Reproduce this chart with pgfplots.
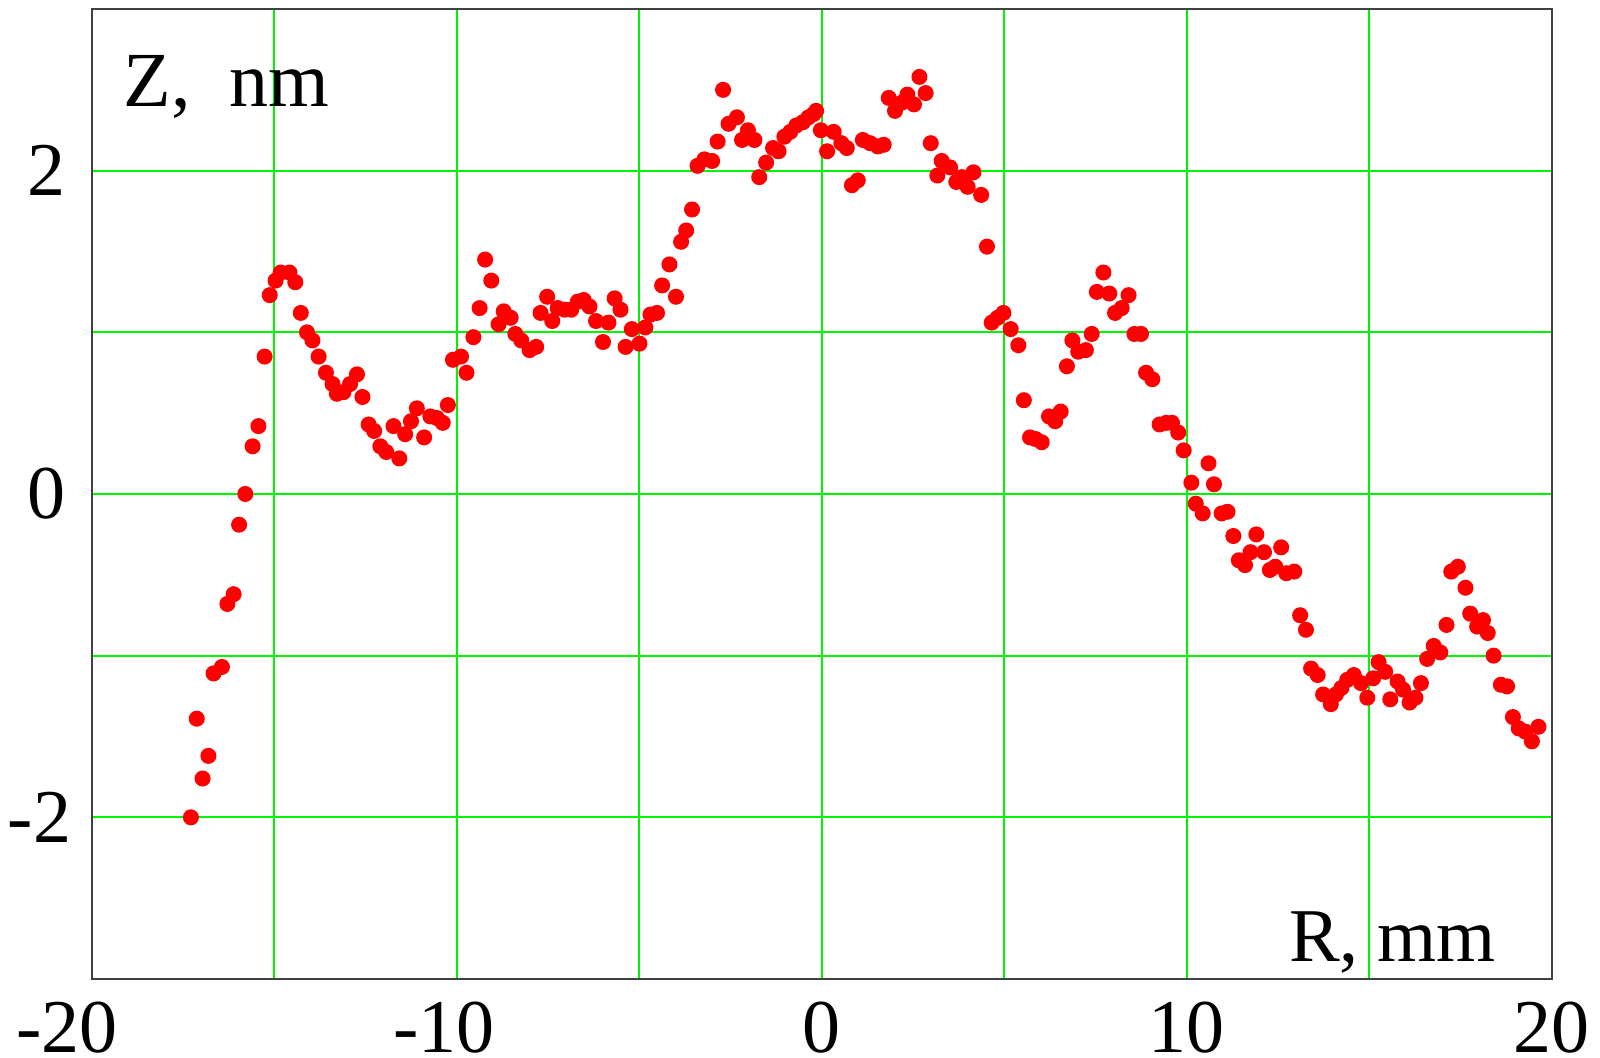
\documentclass[border=0pt]{standalone}
\usepackage{fontspec}
\setmainfont{Liberation Serif}
\usepackage{pgfplots}
\pgfplotsset{compat=1.18}
\definecolor{gridgreen}{RGB}{0,245,0}
\begin{document}
\begin{tikzpicture}
\path[use as bounding box] (-23pt,-19.75pt) rectangle (377pt,244.75pt);
\begin{axis}[
  at={(0,0)}, anchor=south west,
  scale only axis, width=365pt, height=242.5pt,
  xmin=-20, xmax=20, ymin=-3, ymax=3,
  xtick={-20,-10,0,10,20}, xticklabels={\llap{-}20\kern6pt,\llap{-}10,0,10,20},
  minor xtick={-15,-5,5,15},
  ytick={-2,0,2}, yticklabels={-2\kern-1.5pt,0,2},
  minor ytick={-3,-1,1,3},
  grid=both,
  major grid style={gridgreen, line width=0.5pt},
  minor grid style={gridgreen, line width=0.5pt},
  major tick length=0pt, minor tick length=0pt,
  axis line style={black!75, line width=0.6pt},
  tick label style={font=\fontsize{19}{20}\selectfont, inner sep=0pt},
  xticklabel style={anchor=north, yshift=-5.5pt},
  yticklabel style={anchor=east, xshift=-6.5pt},
  clip=false,
]
\addplot[only marks, mark=*, mark size=1.8pt, color=red, mark options={fill=red, draw=red}] table {
x y
-17.29 -2.00
-17.13 -1.39
-16.97 -1.76
-16.81 -1.62
-16.67 -1.11
-16.44 -1.07
-16.29 -0.68
-16.12 -0.62
-15.97 -0.19
-15.80 0.00
-15.60 0.295
-15.44 0.42
-15.27 0.85
-15.13 1.23
-14.97 1.32
-14.83 1.37
-14.59 1.37
-14.43 1.31
-14.28 1.12
-14.11 1.00
-13.96 0.95
-13.79 0.85
-13.59 0.75
-13.41 0.68
-13.29 0.62
-13.11 0.63
-12.93 0.68
-12.74 0.74
-12.59 0.60
-12.42 0.43
-12.27 0.39
-12.10 0.295
-11.94 0.26
-11.74 0.42
-11.58 0.22
-11.42 0.37
-11.26 0.45
-11.10 0.53
-10.90 0.35
-10.73 0.48
-10.55 0.47
-10.39 0.44
-10.25 0.55
-10.11 0.83
-9.89 0.85
-9.74 0.75
-9.55 0.97
-9.38 1.15
-9.23 1.45
-9.06 1.32
-8.86 1.05
-8.72 1.13
-8.53 1.09
-8.40 0.99
-8.24 0.95
-8.01 0.89
-7.83 0.91
-7.71 1.12
-7.53 1.22
-7.39 1.07
-7.24 1.15
-7.05 1.14
-6.87 1.14
-6.69 1.19
-6.53 1.20
-6.37 1.16
-6.19 1.07
-6.00 0.94
-5.85 1.06
-5.68 1.21
-5.52 1.14
-5.38 0.91
-5.21 1.02
-5.00 0.93
-4.84 1.03
-4.70 1.11
-4.52 1.12
-4.38 1.29
-4.18 1.42
-4.00 1.22
-3.86 1.56
-3.72 1.63
-3.56 1.76
-3.41 2.03
-3.22 2.07
-3.01 2.06
-2.86 2.18
-2.71 2.50
-2.56 2.29
-2.33 2.33
-2.19 2.19
-2.03 2.25
-1.85 2.19
-1.72 1.96
-1.53 2.05
-1.34 2.14
-1.19 2.12
-1.03 2.21
-0.87 2.24
-0.70 2.28
-0.52 2.30
-0.37 2.33
-0.23 2.35
-0.16 2.37
-0.03 2.25
0.14 2.12
0.32 2.24
0.53 2.17
0.68 2.14
0.82 1.91
0.98 1.94
1.12 2.19
1.32 2.17
1.53 2.15
1.69 2.16
1.83 2.45
2.00 2.37
2.18 2.42
2.34 2.47
2.52 2.41
2.67 2.58
2.84 2.48
2.98 2.17
3.16 1.97
3.28 2.06
3.51 2.02
3.68 1.93
3.83 1.96
3.99 1.90
4.15 1.99
4.36 1.85
4.52 1.53
4.65 1.06
4.81 1.09
4.97 1.12
5.17 1.02
5.38 0.92
5.53 0.58
5.70 0.35
5.85 0.34
6.02 0.32
6.22 0.48
6.39 0.45
6.54 0.51
6.71 0.79
6.86 0.95
7.02 0.88
7.23 0.89
7.39 0.99
7.53 1.25
7.71 1.37
7.87 1.24
8.03 1.12
8.21 1.15
8.40 1.23
8.56 0.99
8.74 0.99
8.88 0.75
9.05 0.71
9.25 0.43
9.43 0.44
9.59 0.44
9.76 0.38
9.91 0.27
10.12 0.07
10.24 -0.06
10.43 -0.12
10.59 0.19
10.74 0.06
10.95 -0.12
11.11 -0.11
11.27 -0.26
11.42 -0.41
11.59 -0.44
11.74 -0.36
11.90 -0.25
12.11 -0.36
12.27 -0.47
12.42 -0.45
12.58 -0.33
12.72 -0.49
12.94 -0.48
13.10 -0.75
13.26 -0.84
13.40 -1.08
13.58 -1.12
13.73 -1.24
13.94 -1.30
14.08 -1.24
14.23 -1.20
14.39 -1.15
14.57 -1.12
14.77 -1.17
14.94 -1.26
15.10 -1.14
15.25 -1.04
15.43 -1.10
15.57 -1.27
15.77 -1.16
15.92 -1.21
16.10 -1.29
16.26 -1.26
16.41 -1.17
16.58 -1.02
16.76 -0.94
16.94 -0.98
17.11 -0.81
17.24 -0.48
17.42 -0.45
17.63 -0.58
17.76 -0.74
17.95 -0.82
18.11 -0.78
18.24 -0.86
18.40 -1.00
18.60 -1.18
18.77 -1.19
18.93 -1.38
19.09 -1.45
19.27 -1.47
19.45 -1.53
19.63 -1.44
};
\node[anchor=base west, inner sep=0pt, font=\fontsize{19.5}{22}\selectfont] at (axis cs:-19.15,2.394) {Z,\ \ nm};
\node[anchor=base east, inner sep=0pt, font=\fontsize{19}{22}\selectfont] at (axis cs:18.49,-2.894) {R, mm};
\end{axis}
\end{tikzpicture}
\end{document}
